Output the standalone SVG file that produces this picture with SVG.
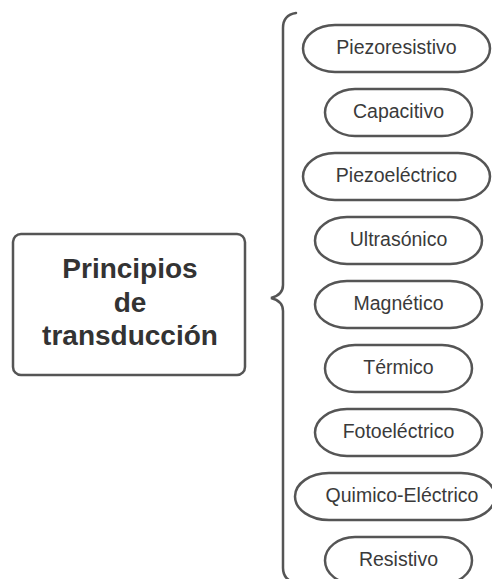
<svg xmlns="http://www.w3.org/2000/svg" width="492" height="579" viewBox="0 0 492 579">
<style>
.pill{fill:#fff;stroke:#555;stroke-width:2.5}
.box{fill:#fff;stroke:#555;stroke-width:2.5}
.t{font-family:"Liberation Sans",Arial,sans-serif;font-size:19.5px;fill:#3a3a3a;text-anchor:middle}
.title{font-family:"Liberation Sans",Arial,sans-serif;font-size:28px;font-weight:bold;fill:#333;text-anchor:middle}
.brace{fill:none;stroke:#555;stroke-width:2.5;stroke-linecap:round}
</style>
<rect width="492" height="579" fill="#fff"/>
<g id="connectors">
<path class="brace" d="M296 13 Q283 15 283 28 L283 285 Q283 295 271 298 Q283 301 283 311 L283 568 Q283 580 296 583"/>
</g>
<g id="main">
<rect class="box" x="13" y="234" width="232" height="141" rx="8"/>
<text class="title" x="130" y="278">Principios</text>
<text class="title" x="130" y="312">de</text>
<text class="title" x="130" y="345">transducción</text>
</g>
<g id="n1"><rect class="pill" x="303" y="25" width="187" height="47" rx="32" ry="23.5"/><text class="t" x="396.5" y="54">Piezoresistivo</text></g>
<g id="n2"><rect class="pill" x="325" y="89" width="147" height="47" rx="30" ry="23.5"/><text class="t" x="398.5" y="118">Capacitivo</text></g>
<g id="n3"><rect class="pill" x="303" y="153" width="187" height="47" rx="32" ry="23.5"/><text class="t" x="396.5" y="182">Piezoeléctrico</text></g>
<g id="n4"><rect class="pill" x="315" y="217" width="167" height="47" rx="32" ry="23.5"/><text class="t" x="398.5" y="246">Ultrasónico</text></g>
<g id="n5"><rect class="pill" x="315" y="281" width="167" height="47" rx="32" ry="23.5"/><text class="t" x="398.5" y="310">Magnético</text></g>
<g id="n6"><rect class="pill" x="325" y="345" width="147" height="47" rx="30" ry="23.5"/><text class="t" x="398.5" y="374">Térmico</text></g>
<g id="n7"><rect class="pill" x="315" y="409" width="167" height="47" rx="32" ry="23.5"/><text class="t" x="398.5" y="438">Fotoeléctrico</text></g>
<g id="n8"><rect class="pill" x="295" y="473" width="200" height="47" rx="34" ry="23.5"/><text class="t" x="402" y="502">Quimico-Eléctrico</text></g>
<g id="n9"><rect class="pill" x="325" y="537" width="147" height="47" rx="30" ry="23.5"/><text class="t" x="398.5" y="566">Resistivo</text></g>
</svg>
